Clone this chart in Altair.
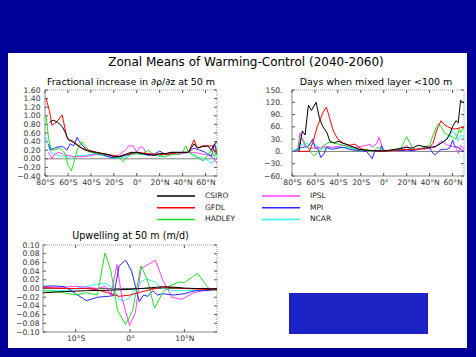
import altair as alt
import pandas as pd

# ---------------- data ----------------
MODELS = ["CSIRO", "GFDL", "HADLEY", "IPSL", "MPI", "NCAR"]          # legend order (column-major, 2 columns)
COLORS = ["#000000", "#FF0000", "#22E022", "#FF3CFF", "#2828FF", "#33F0F0"]
DRAW_ORDER = ["NCAR", "IPSL", "MPI", "HADLEY", "GFDL", "CSIRO"]

# Panel 1: fractional increase in d(rho)/dz at 50 m
p1_lat = {
    "CSIRO": [-76, -73, -69, -65, -62, -60, -55, -50, -45, -40, -35, -30, -25, -20, -15, -10, -5, 0, 5, 10, 15, 20, 25, 30, 35, 40, 45, 50, 53, 57, 62, 65, 68, 70],
    "GFDL": [-79, -76, -74, -70, -65, -61, -59, -55, -48, -42, -35, -25, -20, -15, -10, -5, 0, 10, 20, 30, 40, 45, 50, 53, 57, 62, 66, 68, 70],
    "HADLEY": [-79, -77, -75, -72, -68, -65, -62, -60, -57, -55, -52, -48, -45, -40, -35, -30, -25, -20, -15, -12, -8, -5, 0, 5, 10, 12, 15, 20, 25, 30, 35, 40, 43, 45, 50, 55, 58, 62, 65, 68, 70],
    "MPI": [-77, -75, -72, -68, -64, -61, -58, -55, -52, -50, -47, -43, -40, -35, -30, -25, -20, -15, -10, -5, 0, 5, 10, 15, 20, 25, 30, 35, 40, 45, 50, 55, 60, 65, 68, 70],
    "IPSL": [-77, -74, -72, -68, -64, -60, -55, -50, -45, -40, -35, -30, -25, -20, -15, -10, -7, -3, 0, 3, 6, 8, 12, 16, 20, 25, 30, 35, 40, 45, 50, 55, 60, 65, 70],
    "NCAR": [-79, -77, -75, -72, -68, -64, -60, -57, -55, -50, -45, -40, -35, -30, -25, -20, -15, -10, -5, 0, 5, 10, 15, 20, 25, 30, 35, 40, 45, 50, 55, 60, 65, 68, 70],
}
p1_val = {
    "CSIRO": [0.85, 0.90, 0.85, 0.75, 0.60, 0.45, 0.38, 0.28, 0.20, 0.17, 0.15, 0.12, 0.10, 0.05, 0.05, 0.10, 0.15, 0.15, 0.12, 0.10, 0.08, 0.12, 0.12, 0.15, 0.15, 0.15, 0.15, 0.35, 0.25, 0.28, 0.30, 0.20, 0.35, 0.40],
    "GFDL": [1.40, 1.10, 0.78, 0.85, 1.02, 0.50, 0.45, 0.40, 0.25, 0.20, 0.15, 0.10, 0.08, 0.06, 0.10, 0.12, 0.15, 0.12, 0.10, 0.12, 0.15, 0.15, 0.44, 0.25, 0.30, 0.30, 0.30, 0.15, 0.20],
    "HADLEY": [1.00, 0.50, 0.25, 0.20, 0.25, 0.20, 0.10, -0.15, -0.28, -0.10, 0.20, 0.40, 0.30, 0.15, 0.12, 0.10, 0.10, 0.05, 0.03, -0.07, 0.05, 0.10, 0.12, 0.10, 0.20, 0.15, 0.10, 0.08, 0.05, 0.10, 0.10, 0.15, 0.30, 0.15, 0.10, 0.00, -0.05, 0.10, 0.20, 0.05, 0.25],
    "MPI": [0.35, 0.20, 0.25, 0.28, 0.28, 0.20, 0.35, 0.30, 0.50, 0.40, 0.30, 0.20, 0.15, 0.12, 0.10, 0.05, 0.02, 0.05, 0.08, 0.12, 0.15, 0.12, 0.08, 0.10, 0.18, 0.10, 0.15, 0.15, 0.15, 0.15, 0.25, 0.20, 0.15, 0.05, 0.35, 0.10],
    "IPSL": [0.15, 0.00, 0.10, 0.15, 0.10, 0.08, 0.05, 0.05, 0.05, 0.08, 0.10, 0.10, 0.08, 0.05, 0.10, 0.20, 0.30, 0.30, 0.15, 0.28, 0.25, 0.12, 0.10, 0.08, 0.12, 0.10, 0.10, 0.10, 0.12, 0.15, 0.15, 0.12, 0.10, 0.08, -0.10],
    "NCAR": [0.50, 0.30, 0.15, 0.10, 0.08, 0.05, 0.05, 0.00, 0.05, 0.08, 0.08, 0.10, 0.10, 0.08, 0.05, 0.02, 0.02, 0.05, 0.10, 0.12, 0.10, 0.10, 0.10, 0.05, 0.05, 0.10, 0.10, 0.12, 0.15, 0.05, 0.02, 0.00, -0.10, -0.05, 0.10],
}

# Panel 2: days when mixed layer < 100 m
p2_lat = {
    "CSIRO": [-74, -71, -68.6, -65.7, -63, -59, -56, -53, -49.4, -47, -43, -40, -35.7, -30, -26, -21, -15, -10, 0, 10, 20, 25, 30, 35, 40, 45, 50, 55, 58, 60, 63, 65, 67, 69, 70],
    "GFDL": [-75, -65, -62, -58, -53, -50, -47, -44, -40, -35, -30, -25, -22, -18, -15, -10, 0, 10, 20, 30, 40, 43, 46, 50, 53, 56, 60, 63, 67, 70],
    "HADLEY": [-75, -72, -70, -68, -65, -63, -61, -58, -55, -52, -48, -44, -40, -35, -30, -25, -20, -15, -12, -8, -5, -2, 0, 5, 10, 15, 18, 20, 22, 25, 28, 30, 35, 40, 43, 46, 48, 50, 53, 56, 60, 63, 66, 67, 70],
    "MPI": [-78, -75, -72, -70, -67, -65, -62, -60, -57, -55, -52, -50, -45, -40, -35, -30, -25, -20, -15, -12, -10, -8, -5, -3, -2, 0, 5, 10, 15, 20, 25, 30, 35, 40, 43, 45, 48, 50, 55, 58, 60, 62, 65, 68, 70],
    "IPSL": [-78, -75, -73, -71, -69, -67, -65, -60, -55, -50, -45, -40, -35, -30, -25, -20, -15, -12, -10, -6, -4, -2, 0, 5, 10, 15, 20, 23, 27, 30, 35, 40, 45, 48, 50, 53, 56, 60, 63, 65, 67, 70],
    "NCAR": [-80, -78, -75, -73, -70, -67, -64, -62, -59, -57, -55, -50, -45, -40, -35, -30, -25, -20, -15, -10, -5, 0, 5, 10, 15, 20, 30, 40, 45, 50, 55, 58, 60, 63, 65, 67, 70],
}
p2_val = {
    "CSIRO": [0, 50, 40, 113, 100, 120, 80, 60, 45, 25, 20, 25, 20, 15, 10, 5, 3, 2, 1, 5, 10, 8, 15, 12, 10, 12, 20, 30, 45, 60, 75, 70, 125, 120, 120],
    "GFDL": [0, 0, 20, 60, 95, 108, 80, 50, 30, 20, 15, 18, 10, 5, 3, 2, 0, 3, 5, 5, 10, 20, 50, 75, 65, 60, 55, 55, 58, 58],
    "HADLEY": [0, 35, 28, 15, 5, -5, -10, -5, 5, 15, 22, 22, 18, 15, 10, 8, 3, 5, 0, 2, 10, 5, 0, 2, 5, 8, 25, 36, 25, 10, 5, 5, 10, 15, 40, 60, 68, 60, 45, 40, 35, 30, 55, 45, 60],
    "MPI": [0, 5, 10, 10, 12, 15, 30, 10, 5, -15, -5, 10, 5, 8, 10, 5, 3, 2, 0, -10, -18, 0, 2, 0, 15, 0, 2, 3, 2, 3, 2, 5, 8, 8, -5, -8, 0, 5, 5, 10, 28, 12, 10, 3, 0],
    "IPSL": [0, 5, 45, 30, 15, 10, 8, 8, 10, 12, 10, 12, 15, 12, 10, 12, 15, 18, 10, 20, 35, 15, 3, 2, 3, 5, 15, 5, 3, 8, 5, 8, 10, 20, 25, 20, 15, 12, 10, -5, 15, 5],
    "NCAR": [5, 3, 8, 20, 15, 20, 15, 20, 15, 10, 5, 8, 10, 10, 10, 8, 5, 3, 2, 2, 2, 1, 2, 3, 3, 5, 5, 8, 12, 20, 30, 40, 50, 40, 25, 40, 35],
}

# Panel 3: upwelling at 50 m (m/d)
p3_lat = {
    "CSIRO": [-16, -12, -8, -4, 0, 4, 6, 8, 10, 12, 16],
    "GFDL": [-16, -12, -8, -6, -4, -2, 0, 2, 4, 6, 8, 10, 12, 16],
    "HADLEY": [-16, -14, -12, -10, -8, -6, -4.6, -3.5, -2.3, -0.8, 0.5, 2, 3.2, 4.5, 6, 7.2, 9, 10, 12.4, 14.5, 16],
    "MPI": [-16, -14, -12, -10, -8, -6, -4, -3, -2, -0.8, 0.3, 1.7, 2.5, 3.3, 4.2, 5, 6, 8, 10, 12, 14, 16],
    "IPSL": [-16, -12, -10, -8, -6, -4.5, -3.5, -2.4, -1.5, -0.1, 1, 2, 3.3, 4.7, 6, 7.7, 9.5, 11.7, 14, 16],
    "NCAR": [-16, -12, -10, -8, -6, -4.5, -3, -2, -1, 0, 1, 2, 3, 4.5, 6, 8, 10, 12, 14, 16],
}
p3_val = {
    "CSIRO": [-0.010, -0.007, -0.005, -0.004, -0.002, 0.002, 0.004, 0.003, 0.001, 0.000, -0.001],
    "GFDL": [0.002, 0.000, 0.000, -0.003, -0.010, -0.018, -0.015, -0.008, -0.002, 0.003, 0.002, 0.000, -0.001, -0.003],
    "HADLEY": [-0.005, -0.006, -0.010, -0.015, -0.010, -0.015, 0.082, 0.040, -0.050, -0.083, -0.050, 0.052, 0.020, -0.045, -0.010, 0.005, 0.015, 0.013, 0.035, 0.000, -0.005],
    "MPI": [0.005, 0.006, 0.004, -0.012, -0.028, -0.020, -0.018, -0.016, 0.052, 0.065, 0.040, -0.030, -0.015, -0.018, -0.005, -0.015, -0.012, -0.015, -0.012, -0.005, -0.005, -0.002],
    "IPSL": [0.003, 0.003, 0.005, 0.003, 0.000, 0.005, -0.015, 0.055, -0.020, -0.085, -0.055, 0.045, 0.055, 0.065, 0.020, -0.020, -0.025, -0.010, -0.003, -0.002],
    "NCAR": [-0.005, -0.005, 0.000, 0.005, 0.010, 0.012, 0.000, -0.025, -0.028, -0.020, 0.000, 0.015, 0.022, 0.015, 0.000, -0.005, -0.005, -0.005, -0.004, -0.003],
}

MAIN_TITLE = "Zonal Means of Warming-Control (2040-2060)"
T1 = "Fractional increase in \u2202\u03c1/\u2202z at 50 m"
T2 = "Days when mixed layer <100 m"
T3 = "Upwelling at 50 m (m/d)"

P1_Y_TICKS = [-0.4, -0.2, 0.0, 0.2, 0.4, 0.6, 0.8, 1.0, 1.2, 1.4, 1.6]
P2_Y_TICKS = [-60, -30, 0, 30, 60, 90, 120, 150]
P3_Y_TICKS = [-0.10, -0.08, -0.06, -0.04, -0.02, 0.0, 0.02, 0.04, 0.06, 0.08, 0.10]
LAT_TICKS = [-80, -60, -40, -20, 0, 20, 40, 60]
EQ_TICKS = [-10, 0, 10]

# ---------------- layout ----------------
W, H = 476, 357
FONT = "DejaVu Sans"
TICK_LEN = 3
LAT_EXPR = "datum.value < 0 ? abs(datum.value) + '\u00b0S' : (datum.value > 0 ? datum.value + '\u00b0N' : '0\u00b0')"

cscale = alt.Scale(domain=MODELS, range=COLORS)
legend = alt.Legend(
    orient="none", legendX=156, legendY=191, columns=2, title=None,
    symbolType="stroke", symbolSize=1444, symbolStrokeWidth=1.5, clipHeight=10,
    labelFont=FONT, labelFontSize=7.5, labelColor="#222222", labelOffset=9,
    rowPadding=1.7, columnPadding=25, zindex=2,
)


def long_df(lats, vals):
    rows = []
    for m in DRAW_ORDER:
        for la, v in zip(lats[m], vals[m]):
            rows.append({"model": m, "lat": la, "val": v})
    return pd.DataFrame(rows)


ONE = pd.DataFrame({"k": [0]})


def panel(df, xdom, xrng, ydom, yrng, xvals, xexpr, yvals, yfmt, yexpr, ylabpad, zero_color):
    """Returns a flat list of layers; each layer gets its own (identical) scales."""
    def xs():
        return alt.Scale(domain=xdom, range=xrng, nice=False, zero=False)

    def ys():
        return alt.Scale(domain=ydom, range=yrng, nice=False, zero=False)

    common = dict(grid=False, ticks=False, domain=False, title=None, zindex=2,
                  labelFont=FONT, labelFontSize=7.6, labelColor="#333333", labelOverlap=False)
    xaxis = alt.Axis(orient="bottom", offset=yrng[0] - H, values=xvals, labelExpr=xexpr,
                     labelFlush=False, labelPadding=2.5, **common)
    yargs = dict(orient="left", offset=-xrng[0], values=yvals, labelPadding=ylabpad, **common)
    if yexpr:
        yargs["labelExpr"] = yexpr
    else:
        yargs["format"] = yfmt
    yaxis = alt.Axis(**yargs)

    def xd(v):
        return alt.XDatum(v, type="quantitative", scale=xs(), axis=None)

    def yd(v):
        return alt.YDatum(v, type="quantitative", scale=ys(), axis=None)

    zero = alt.Chart(ONE).mark_rule(color=zero_color, strokeWidth=1).encode(
        x=xd(xdom[0]), x2=alt.X2Datum(xdom[1]), y=yd(0))
    left = alt.Chart(ONE).mark_rule(color="#888888", strokeWidth=1).encode(
        x=xd(xdom[0]), y=yd(ydom[0]), y2=alt.Y2Datum(ydom[1]))
    bottom = alt.Chart(ONE).mark_rule(color="#888888", strokeWidth=1).encode(
        x=xd(xdom[0]), x2=alt.X2Datum(xdom[1]), y=yd(ydom[0]))
    top = alt.Chart(ONE).mark_rule(color="#999999", strokeWidth=1, strokeDash=[1, 1]).encode(
        x=xd(xdom[0]), x2=alt.X2Datum(xdom[1]), y=yd(ydom[1]))
    right = alt.Chart(ONE).mark_rule(color="#999999", strokeWidth=1, strokeDash=[1, 1]).encode(
        x=xd(xdom[1]), y=yd(ydom[0]), y2=alt.Y2Datum(ydom[1]))

    # inward tick marks on all four frame edges, placed through the scales
    ytk = pd.DataFrame({"v": yvals})
    xtk = pd.DataFrame({"v": xvals})
    tick_style = dict(color="#555555", strokeWidth=1)
    tl = alt.Chart(ytk).mark_rule(**tick_style).encode(
        y=alt.Y("v:Q", scale=ys(), axis=None),
        x=alt.value(xrng[0]), x2=alt.value(xrng[0] + TICK_LEN))
    tr = alt.Chart(ytk).mark_rule(**tick_style).encode(
        y=alt.Y("v:Q", scale=ys(), axis=None),
        x=alt.value(xrng[1] - TICK_LEN), x2=alt.value(xrng[1]))
    tb = alt.Chart(xtk).mark_rule(**tick_style).encode(
        x=alt.X("v:Q", scale=xs(), axis=None),
        y=alt.value(yrng[0]), y2=alt.value(yrng[0] - TICK_LEN))
    tt = alt.Chart(xtk).mark_rule(**tick_style).encode(
        x=alt.X("v:Q", scale=xs(), axis=None),
        y=alt.value(yrng[1]), y2=alt.value(yrng[1] + TICK_LEN))

    lines = alt.Chart(df).mark_line(strokeWidth=1).encode(
        x=alt.X("lat:Q", scale=xs(), axis=xaxis),
        y=alt.Y("val:Q", scale=ys(), axis=yaxis),
        color=alt.Color("model:N", scale=cscale, legend=legend),
    )
    return [zero, left, bottom, top, right, tl, tr, tb, tt, lines]


def text(t, x, y, size):
    return alt.Chart(ONE).mark_text(text=t, font=FONT, fontSize=size, color="#000000",
                                    align="center", baseline="middle").encode(
        x=alt.value(x), y=alt.value(y))


white = alt.Chart(ONE).mark_rect(color="#FFFFFF").encode(
    x=alt.value(8), x2=alt.value(467), y=alt.value(53), y2=alt.value(348))
box = alt.Chart(ONE).mark_rect(color="#1C22C4").encode(
    x=alt.value(289), x2=alt.value(428), y=alt.value(293), y2=alt.value(334))

p1 = panel(long_df(p1_lat, p1_val), [-80, 70], [45, 217], [-0.4, 1.6], [176, 90],
           LAT_TICKS, LAT_EXPR, P1_Y_TICKS, ".2f", None, 5, "#808080")
p2 = panel(long_df(p2_lat, p2_val), [-80, 70], [292, 464], [-60, 150], [176, 90],
           LAT_TICKS, LAT_EXPR, P2_Y_TICKS, None, "format(datum.value, 'd') + '.'", 10, "#808080")
p3 = panel(long_df(p3_lat, p3_val), [-16, 16], [43, 217], [-0.10, 0.10], [332, 245],
           EQ_TICKS, LAT_EXPR, P3_Y_TICKS, ".2f", None, 4, "#666666")

chart = alt.layer(
    white, box,
    text(MAIN_TITLE, 246, 62, 12),
    text(T1, 131, 82, 9.5),
    text(T2, 376, 82, 9.5),
    text(T3, 130.5, 236, 9.6),
    *p1, *p2, *p3,
).resolve_scale(x="independent", y="independent").properties(
    width=W, height=H, padding=0, background="#000099",
    autosize=alt.AutoSizeParams(type="none"),
).configure_view(stroke=None)

chart.save("out.html", embed_options={"renderer": "svg", "actions": False})
